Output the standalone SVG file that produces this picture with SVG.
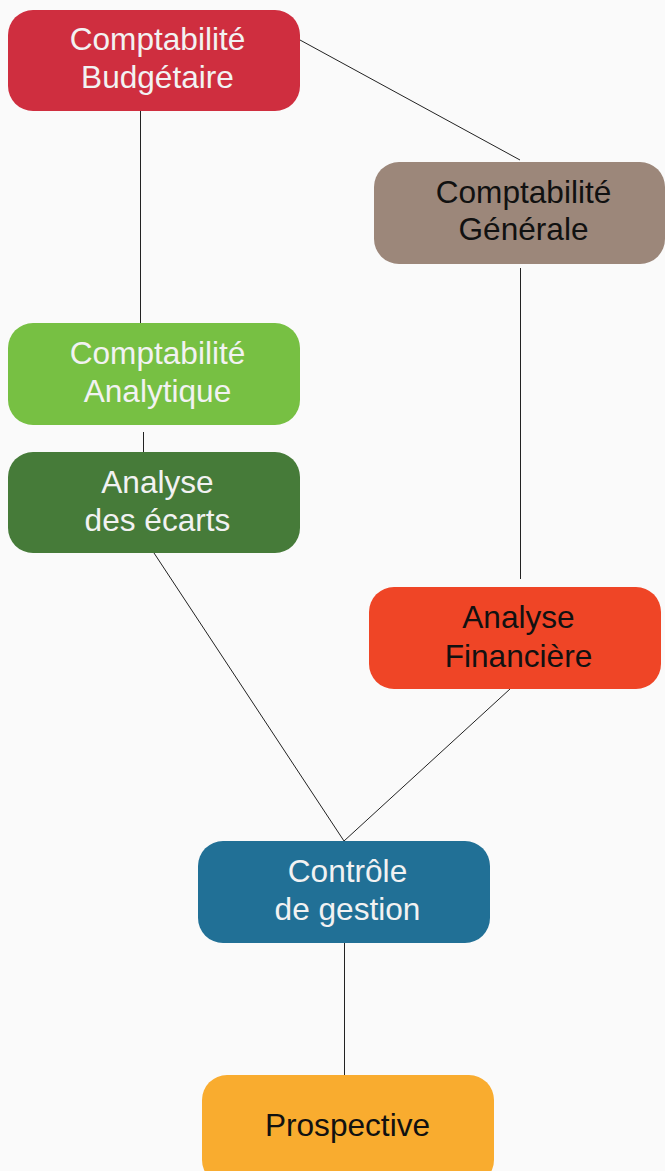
<svg xmlns="http://www.w3.org/2000/svg" width="665" height="1171" viewBox="0 0 665 1171">
<style>
.bg{fill:#FAFAFA}
.n{stroke:none}
.t{font-family:"Liberation Sans",Arial,sans-serif;font-size:31.6px;text-anchor:middle}
.w{fill:#F2F2F2}
.k{fill:#111111}
.c{stroke:#222222;stroke-width:1;fill:none}
</style>
<rect class="bg" x="0" y="0" width="665" height="1171"/>
<g id="connectors">
<line class="c" x1="300" y1="40" x2="520" y2="160"/>
<line class="c" x1="140.5" y1="111" x2="140.5" y2="323"/>
<line class="c" x1="143.5" y1="432" x2="143.5" y2="452"/>
<line class="c" x1="520.5" y1="268" x2="520.5" y2="579"/>
<line class="c" x1="154" y1="553" x2="344" y2="841"/>
<line class="c" x1="510" y1="689" x2="344" y2="841"/>
<line class="c" x1="344.5" y1="943" x2="344.5" y2="1075"/>
</g>
<g id="budgetaire">
<rect class="n" x="8" y="10" width="292" height="101" rx="25" fill="#CF2E3F"/>
<text class="t w" x="157.5" y="50">Comptabilité</text>
<text class="t w" x="157.5" y="88">Budgétaire</text>
</g>
<g id="generale">
<rect class="n" x="374" y="162" width="291" height="102" rx="25" fill="#9C877A"/>
<text class="t k" x="523.5" y="203">Comptabilité</text>
<text class="t k" x="523.5" y="240">Générale</text>
</g>
<g id="analytique">
<rect class="n" x="8" y="323" width="292" height="102" rx="25" fill="#77C043"/>
<text class="t w" x="157.5" y="364">Comptabilité</text>
<text class="t w" x="157.5" y="402">Analytique</text>
</g>
<g id="ecarts">
<rect class="n" x="8" y="452" width="292" height="101" rx="25" fill="#467B39"/>
<text class="t w" x="157.5" y="493">Analyse</text>
<text class="t w" x="157.5" y="531">des écarts</text>
</g>
<g id="financiere">
<rect class="n" x="369" y="587" width="292" height="102" rx="25" fill="#EF4526"/>
<text class="t k" x="518.5" y="628">Analyse</text>
<text class="t k" x="518.5" y="667">Financière</text>
</g>
<g id="controle">
<rect class="n" x="198" y="841" width="292" height="102" rx="25" fill="#217096"/>
<text class="t w" x="347.5" y="882">Contrôle</text>
<text class="t w" x="347.5" y="920">de gestion</text>
</g>
<g id="prospective">
<rect class="n" x="202" y="1075" width="292" height="110" rx="25" fill="#F9AC2F"/>
<text class="t k" x="347.5" y="1136">Prospective</text>
</g>
</svg>
